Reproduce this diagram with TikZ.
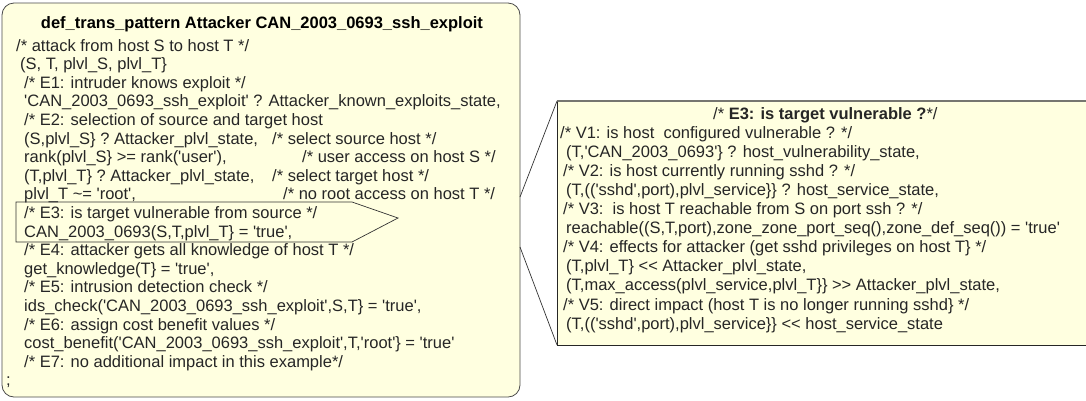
\documentclass[tikz,border=0pt]{standalone}
\usepackage{fontspec}
\newfontfamily\codefont{Liberation Sans}
\usetikzlibrary{calc}

\definecolor{notefill}{HTML}{FFFFE0}
\definecolor{noteedge}{HTML}{4A4A4A}
\definecolor{topedge}{HTML}{767670}

\newcommand{\q}{\textquotesingle}
\newcommand{\us}{\_}

\tikzset{
  code/.style={anchor=base west, inner sep=0pt, text=black!85,
    font=\codefont\fontsize{16.5}{18}\selectfont},
  heading/.style={anchor=base, inner sep=0pt, text=black,
    font=\codefont\bfseries\fontsize{16.5}{18}\selectfont},
  notebox/.style={fill=notefill, draw=noteedge, line width=0.8pt},
  callout/.style={draw=black!80, line width=0.7pt},
}

\begin{document}
\begin{tikzpicture}[x=1pt, y=-1pt]
\useasboundingbox (0,0) rectangle (1086,400);
\fill[white] (0,0) rectangle (1086,400);

% ---------- pattern definition box ----------
\draw[notebox, rounded corners=12pt] (2,3) rectangle (520,397);

\node[heading] (title) at (262,28) {def\us trans\us pattern Attacker CAN\us 2003\us 0693\us ssh\us exploit};

\def\rowy#1{\fpeval{51+(#1-1)*18.6}}

\node[code] (a1)  at (16,\rowy{1})  {/* attack from host S to host T */};
\node[code] (a2)  at (20,\rowy{2})  {(S, T, plvl\us S, plvl\us T\}};
\node[code] (a3)  at (24,\rowy{3})  {/* E1: intruder knows exploit */};
\node[code] (a4)  at (24,\rowy{4})  {\q CAN\us 2003\us 0693\us ssh\us exploit\q\ ? Attacker\us known\us exploits\us state,};
\node[code] (a5)  at (24,\rowy{5})  {/* E2: selection of source and target host};
\node[code] (a6)  at (24,\rowy{6})  {(S,plvl\us S\} ? Attacker\us plvl\us state,};
\node[code] (c6)  at (272,\rowy{6}) {/* select source host */};
\node[code] (a7)  at (24,\rowy{7})  {rank(plvl\us S\} >= rank(\q user\q ),};
\node[code] (c7)  at (302,\rowy{7}) {/* user access on host S */};
\node[code] (a8)  at (24,\rowy{8})  {(T,plvl\us T\} ? Attacker\us plvl\us state,};
\node[code] (c8)  at (272,\rowy{8}) {/* select target host */};
\node[code] (a9)  at (24,\rowy{9})  {plvl\us T \textasciitilde= \q root\q ,};
\node[code] (c9)  at (283,\rowy{9}) {/* no root access on host T */};
\node[code] (a10) at (24,\rowy{10}) {/* E3: is target vulnerable from source */};
\node[code] (a11) at (24,\rowy{11}) {CAN\us 2003\us 0693(S,T,plvl\us T\} = \q true\q ,};
\node[code] (a12) at (24,\rowy{12}) {/* E4: attacker gets all knowledge of host T */};
\node[code] (a13) at (24,\rowy{13}) {get\us knowledge(T\} = \q true\q ,};
\node[code] (a14) at (24,\rowy{14}) {/* E5: intrusion detection check */};
\node[code] (a15) at (24,\rowy{15}) {ids\us check(\q CAN\us 2003\us 0693\us ssh\us exploit\q ,S,T\} = \q true\q ,};
\node[code] (a16) at (24,\rowy{16}) {/* E6: assign cost benefit values */};
\node[code] (a17) at (24,\rowy{17}) {cost\us benefit(\q CAN\us 2003\us 0693\us ssh\us exploit\q ,T,\q root\q\} = \q true\q};
\node[code] (a18) at (24,\rowy{18}) {/* E7: no additional impact in this example*/};
\node[code] (a19) at (6,\rowy{19})  {;};

% tag around the E3 condition
\draw[callout] (16,202) -- (352,202) -- (398,218) -- (352,242) -- (16,242) -- cycle;

% ---------- expanded E3 box ----------
\coordinate (rtl) at (557,101);
\coordinate (rbl) at (557,345);
\coordinate (wtop) at (520,197);
\coordinate (wbot) at (520,247);
\fill[notefill] (rtl) rectangle (1090,345);
\draw[line width=0.7pt, black!85] (rbl) -- (rtl);
\draw[line width=0.7pt, black!85] (rbl) -- (1090,345);
\draw[line width=2pt, topedge] (rtl) -- (1090,101);
\draw[callout] (wtop) -- (rtl);
\draw[callout] (wbot) -- (rbl);

\def\ry#1{\fpeval{119+#1*19.1}}
\node[code] (t0) at (713,119) {/* {\bfseries E3: is target vulnerable ?}*/};
\node[code] (v1)  at (560,\ry{1})  {/* V1: is host\ \ configured vulnerable ? */};
\node[code] (v2)  at (566,\ry{2})  {(T,\q CAN\us 2003\us 0693\q\} ? host\us vulnerability\us state,};
\node[code] (v3)  at (563,\ry{3})  {/* V2: is host currently running sshd ? */};
\node[code] (v4)  at (566,\ry{4})  {(T,((\q sshd\q ,port),plvl\us service\}\} ? host\us service\us state,};
\node[code] (v5)  at (563,\ry{5})  {/* V3:\ \ is host T reachable from S on port ssh ? */};
\node[code] (v6)  at (566,\ry{6})  {reachable((S,T,port),zone\us zone\us port\us seq(),zone\us def\us seq()) = \q true\q};
\node[code] (v7)  at (563,\ry{7})  {/* V4: effects for attacker (get sshd privileges on host T\} */};
\node[code] (v8)  at (566,\ry{8})  {(T,plvl\us T\} <{}< Attacker\us plvl\us state,};
\node[code] (v9)  at (566,\ry{9})  {(T,max\us access(plvl\us service,plvl\us T\}\} >{}> Attacker\us plvl\us state,};
\node[code] (v10) at (563,\ry{10}) {/* V5: direct impact (host T is no longer running sshd\} */};
\node[code] (v11) at (566,\ry{11}) {(T,((\q sshd\q ,port),plvl\us service\}\} <{}< host\us service\us state};
\end{tikzpicture}
\end{document}
